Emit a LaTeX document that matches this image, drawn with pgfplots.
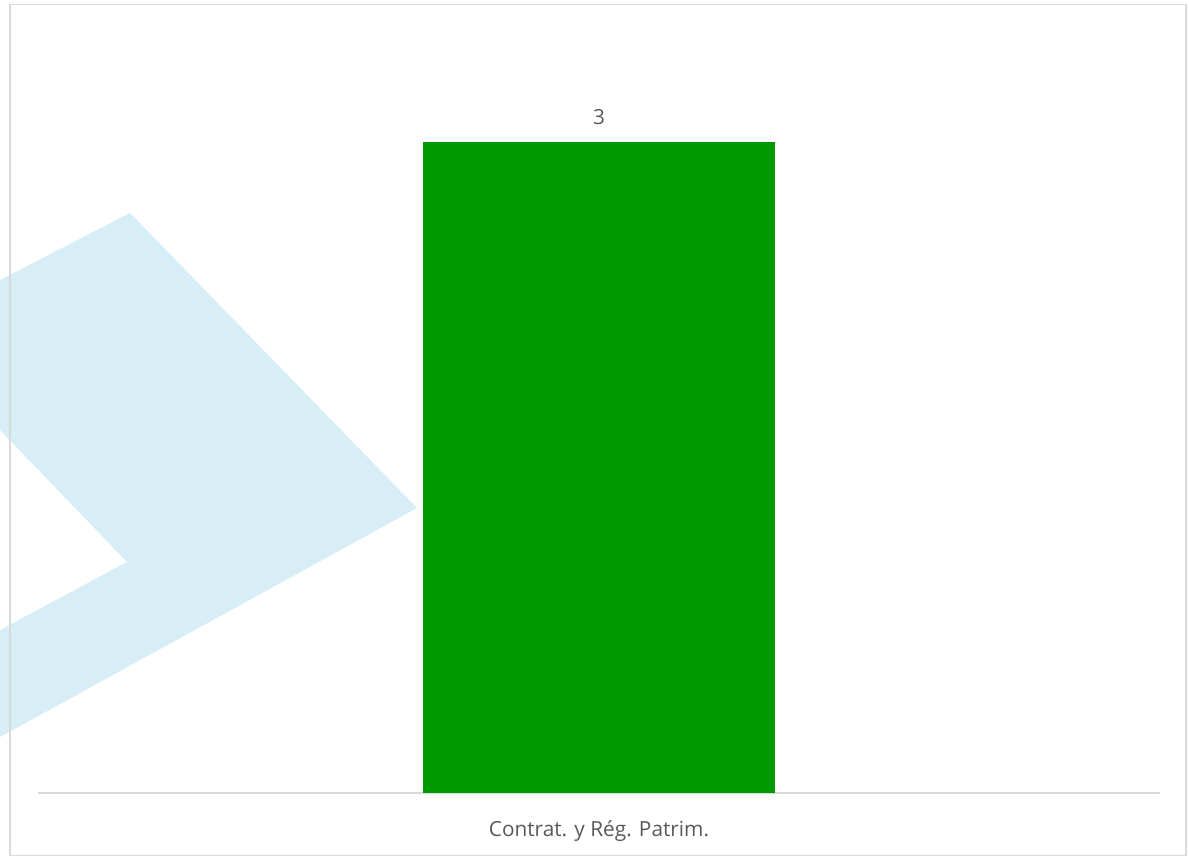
\documentclass[border=0pt]{standalone}
\usepackage{pgfplots}
\pgfplotsset{compat=1.18}
\usepackage{fontspec}
\setmainfont{Open Sans}
\definecolor{bargreen}{RGB}{0,153,0}
\definecolor{txtgray}{RGB}{89,89,89}
\definecolor{linegray}{RGB}{217,217,217}
\definecolor{wmblue}{RGB}{215,238,247}
\begin{document}
\begin{tikzpicture}
\fill[white] (0,0) rectangle (891.75pt,-643.5pt);
\useasboundingbox (0,0) rectangle (891.75pt,-643.5pt);
\begin{scope}[x=0.75pt,y=-0.75pt]
% background watermark
\fill[wmblue] (0,280) -- (130,213) -- (417,508) -- (0,737) -- (0,630) -- (127,562) -- (0,430) -- cycle;
\draw[linegray, line width=0.9pt] (10,4.5) rectangle (1186,855.5);
\end{scope}
\begin{axis}[
  at={(28.5pt,-594.75pt)}, anchor=south west,
  scale only axis,
  width=841.5pt, height=569.625pt,
  xmin=-0.5, xmax=0.5, ymin=0, ymax=3.5,
  axis x line=bottom, axis y line=none,
  axis line style={-, linegray, line width=1.3pt},
  xtick={0}, xticklabels={Contrat. y Rég. Patrim.},
  major tick length=0pt,
  xticklabel style={anchor=base, yshift=-32.6pt, text=txtgray, font=\fontsize{15.6}{18}\selectfont, inner sep=0pt},
  ytick=\empty,
  clip=false,
  /pgf/number format/assume math mode=true,
]
\addplot[ybar, bar width=264pt, fill=bargreen, draw=none, bar shift=0pt,
  nodes near coords,
  nodes near coords style={anchor=base, yshift=13.1pt, text=txtgray, font=\fontsize{15.6}{18}\selectfont, inner sep=0pt},
  point meta=y] coordinates {(0,3)};
\end{axis}
\end{tikzpicture}
\end{document}
